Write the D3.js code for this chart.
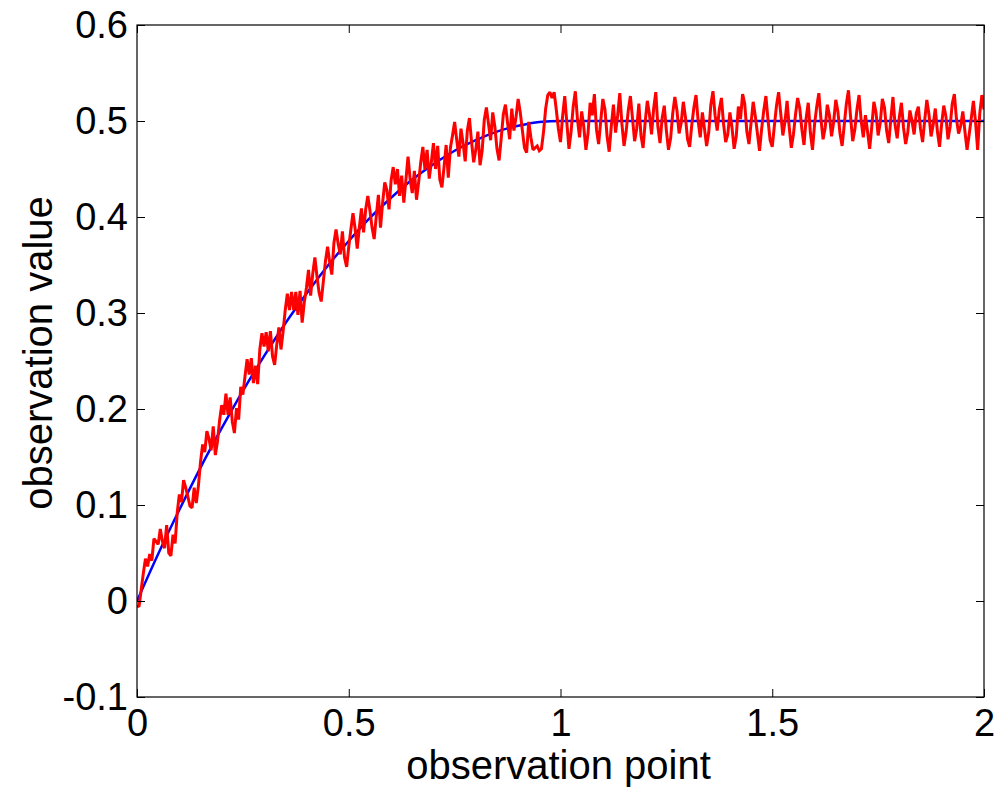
<!DOCTYPE html>
<html>
<head>
<meta charset="utf-8">
<script src="https://cdn.jsdelivr.net/npm/d3@7"></script>
<style>
  html, body { margin: 0; padding: 0; background: #fff; }
  svg { display: block; }
</style>
</head>
<body>
<svg id="chart" width="997" height="788"></svg>
<script>
// Axis ticks
const xTicks = [0, 0.5, 1, 1.5, 2];
const xTickLabels = ["0", "0.5", "1", "1.5", "2"];
const yTicks = [-0.1, 0, 0.1, 0.2, 0.3, 0.4, 0.5, 0.6];
const yTickLabels = ["-0.1", "0", "0.1", "0.2", "0.3", "0.4", "0.5", "0.6"];

// Reference curve (blue): observation points and values
const refX = [0, 0.05, 0.1, 0.15, 0.2, 0.25, 0.3, 0.35, 0.4, 0.45, 0.5, 0.55, 0.6, 0.65, 0.7, 0.75, 0.8, 0.85, 0.9, 0.95, 1, 1.5, 2];
const refY = [0, 0.049, 0.095, 0.139, 0.18, 0.219, 0.255, 0.289, 0.32, 0.349, 0.375, 0.399, 0.42, 0.439, 0.455, 0.469, 0.48, 0.489, 0.495, 0.499, 0.5, 0.5, 0.5];

// Noisy observations (red), sampled every 0.005 over [0, 2]
const obsStart = 0, obsEnd = 2;
const obsY = [
  -0.006, -0.005, 0.012, 0.029, 0.044, 0.036, 0.049, 0.042, 0.065, 0.062,
  0.059, 0.075, 0.062, 0.055, 0.079, 0.050, 0.047, 0.069, 0.060, 0.092,
  0.111, 0.103, 0.126, 0.118, 0.109, 0.099, 0.097, 0.118, 0.102, 0.120,
  0.145, 0.163, 0.155, 0.177, 0.169, 0.157, 0.182, 0.152, 0.166, 0.188,
  0.204, 0.194, 0.216, 0.194, 0.212, 0.187, 0.175, 0.201, 0.189, 0.223,
  0.215, 0.234, 0.252, 0.236, 0.253, 0.227, 0.245, 0.226, 0.262, 0.279,
  0.265, 0.280, 0.260, 0.281, 0.255, 0.246, 0.267, 0.285, 0.262, 0.281,
  0.303, 0.320, 0.303, 0.322, 0.303, 0.322, 0.298, 0.323, 0.290, 0.311,
  0.326, 0.345, 0.318, 0.341, 0.358, 0.338, 0.321, 0.312, 0.333, 0.354,
  0.369, 0.353, 0.340, 0.373, 0.387, 0.372, 0.361, 0.385, 0.358, 0.348,
  0.369, 0.387, 0.404, 0.388, 0.367, 0.389, 0.409, 0.384, 0.408, 0.422,
  0.407, 0.389, 0.377, 0.401, 0.423, 0.389, 0.415, 0.436, 0.428, 0.408,
  0.438, 0.452, 0.434, 0.450, 0.422, 0.443, 0.415, 0.439, 0.463, 0.439,
  0.425, 0.448, 0.418, 0.436, 0.457, 0.473, 0.449, 0.470, 0.440, 0.457,
  0.477, 0.450, 0.474, 0.439, 0.431, 0.452, 0.475, 0.441, 0.472, 0.485,
  0.499, 0.480, 0.463, 0.492, 0.477, 0.458, 0.490, 0.503, 0.478, 0.457,
  0.470, 0.489, 0.454, 0.469, 0.501, 0.514, 0.497, 0.480, 0.509, 0.494,
  0.471, 0.459, 0.482, 0.507, 0.517, 0.498, 0.481, 0.513, 0.490, 0.504,
  0.523, 0.509, 0.490, 0.472, 0.467, 0.499, 0.483, 0.470, 0.472, 0.474,
  0.469, 0.471, 0.489, 0.513, 0.527, 0.530, 0.524, 0.530, 0.512, 0.492,
  0.478, 0.505, 0.526, 0.498, 0.471, 0.489, 0.515, 0.531, 0.502, 0.483,
  0.510, 0.494, 0.470, 0.487, 0.519, 0.506, 0.528, 0.491, 0.476, 0.500,
  0.523, 0.512, 0.484, 0.468, 0.495, 0.517, 0.488, 0.506, 0.529, 0.497,
  0.474, 0.489, 0.511, 0.526, 0.503, 0.479, 0.492, 0.518, 0.485, 0.472,
  0.499, 0.521, 0.507, 0.486, 0.513, 0.530, 0.494, 0.477, 0.503, 0.516,
  0.490, 0.470, 0.482, 0.508, 0.525, 0.511, 0.487, 0.498, 0.520, 0.504,
  0.481, 0.473, 0.496, 0.514, 0.527, 0.500, 0.483, 0.509, 0.492, 0.474,
  0.488, 0.517, 0.531, 0.506, 0.490, 0.512, 0.524, 0.497, 0.478, 0.486,
  0.509, 0.493, 0.471, 0.484, 0.515, 0.502, 0.528, 0.518, 0.489, 0.476,
  0.498, 0.520, 0.505, 0.487, 0.469, 0.492, 0.511, 0.526, 0.501, 0.480,
  0.473, 0.495, 0.516, 0.530, 0.508, 0.485, 0.499, 0.521, 0.494, 0.472,
  0.486, 0.507, 0.524, 0.513, 0.491, 0.475, 0.503, 0.519, 0.488, 0.470,
  0.497, 0.515, 0.529, 0.502, 0.481, 0.493, 0.517, 0.506, 0.484, 0.499,
  0.522, 0.510, 0.487, 0.474, 0.496, 0.518, 0.532, 0.504, 0.479, 0.491,
  0.512, 0.527, 0.500, 0.483, 0.506, 0.489, 0.471, 0.494, 0.520, 0.509,
  0.485, 0.498, 0.523, 0.514, 0.490, 0.477, 0.502, 0.525, 0.496, 0.482,
  0.504, 0.519, 0.493, 0.476, 0.488, 0.511, 0.500, 0.486, 0.508, 0.515,
  0.492, 0.478, 0.501, 0.522, 0.507, 0.484, 0.496, 0.513, 0.489, 0.473,
  0.497, 0.516, 0.505, 0.481, 0.494, 0.518, 0.528, 0.502, 0.487, 0.495,
  0.510, 0.489, 0.470, 0.486, 0.503, 0.521, 0.499, 0.470, 0.508, 0.527,
  0.512
];

const xLabel = "observation point";
const yLabel = "observation value";

// Layout
const plot = { left: 137, right: 984, top: 25, bottom: 697 };
const fontFamily = '"Liberation Sans", Arial, Helvetica, sans-serif';
const tickFontSize = 38;
const titleFontSize = 40;

const svg = d3.select("#chart");

const x = d3.scaleLinear().domain([0, 2]).range([plot.left, plot.right]);
const y = d3.scaleLinear().domain([-0.1, 0.6]).range([plot.bottom, plot.top]);

const lineGen = d3.line().x(d => x(d[0])).y(d => y(d[1]));

const refData = refX.map((v, i) => [v, refY[i]]);
const obsStep = (obsEnd - obsStart) / (obsY.length - 1);
const obsData = obsY.map((v, i) => [obsStart + i * obsStep, v]);

svg.append("defs").append("clipPath").attr("id", "plotClip")
  .append("rect")
  .attr("x", plot.left).attr("y", plot.top)
  .attr("width", plot.right - plot.left).attr("height", plot.bottom - plot.top);

const g = svg.append("g").attr("clip-path", "url(#plotClip)");

// Blue reference curve
g.append("path")
  .datum(refData)
  .attr("fill", "none")
  .attr("stroke", "#0000ff")
  .attr("stroke-width", 2.5)
  .attr("d", d3.line().x(d => x(d[0])).y(d => y(d[1])).curve(d3.curveMonotoneX));

// Red noisy observations
g.append("path")
  .datum(obsData)
  .attr("fill", "none")
  .attr("stroke", "#ff0000")
  .attr("stroke-width", 3)
  .attr("stroke-linejoin", "miter")
  .attr("stroke-miterlimit", 2)
  .attr("d", lineGen);

// Axes: ticks pointing inward on all four sides
const tickLen = 8;
function styleAxis(sel) {
  sel.select(".domain").remove();
  sel.selectAll(".tick line").attr("stroke", "#000").attr("stroke-width", 1);
  sel.selectAll(".tick text")
    .attr("font-family", fontFamily)
    .attr("font-size", tickFontSize)
    .attr("fill", "#000");
}

svg.append("g")
  .attr("transform", `translate(0,${plot.bottom})`)
  .call(d3.axisBottom(x)
    .tickValues(xTicks)
    .tickFormat((d, i) => xTickLabels[i])
    .tickSizeInner(-tickLen).tickSizeOuter(0).tickPadding(12))
  .call(styleAxis);

svg.append("g")
  .attr("transform", `translate(${plot.left},0)`)
  .call(d3.axisLeft(y)
    .tickValues(yTicks)
    .tickFormat((d, i) => yTickLabels[i])
    .tickSizeInner(-tickLen).tickSizeOuter(0).tickPadding(9))
  .call(styleAxis);

svg.append("g")
  .attr("transform", `translate(0,${plot.top})`)
  .call(d3.axisTop(x).tickValues(xTicks).tickFormat("").tickSizeInner(-tickLen).tickSizeOuter(0))
  .call(styleAxis);

svg.append("g")
  .attr("transform", `translate(${plot.right},0)`)
  .call(d3.axisRight(y).tickValues(yTicks).tickFormat("").tickSizeInner(-tickLen).tickSizeOuter(0))
  .call(styleAxis);

// Frame
svg.append("rect")
  .attr("x", plot.left).attr("y", plot.top)
  .attr("width", plot.right - plot.left).attr("height", plot.bottom - plot.top)
  .attr("fill", "none").attr("stroke", "#000").attr("stroke-width", 1.2);

// Axis titles
svg.append("text")
  .attr("x", (plot.left + plot.right) / 2 - 2)
  .attr("y", 779)
  .attr("text-anchor", "middle")
  .attr("font-family", fontFamily)
  .attr("font-size", titleFontSize)
  .attr("fill", "#000")
  .text(xLabel);

svg.append("text")
  .attr("transform", `translate(52,${(plot.top + plot.bottom) / 2 - 8}) rotate(-90)`)
  .attr("text-anchor", "middle")
  .attr("font-family", fontFamily)
  .attr("font-size", titleFontSize)
  .attr("fill", "#000")
  .text(yLabel);
</script>
</body>
</html>
